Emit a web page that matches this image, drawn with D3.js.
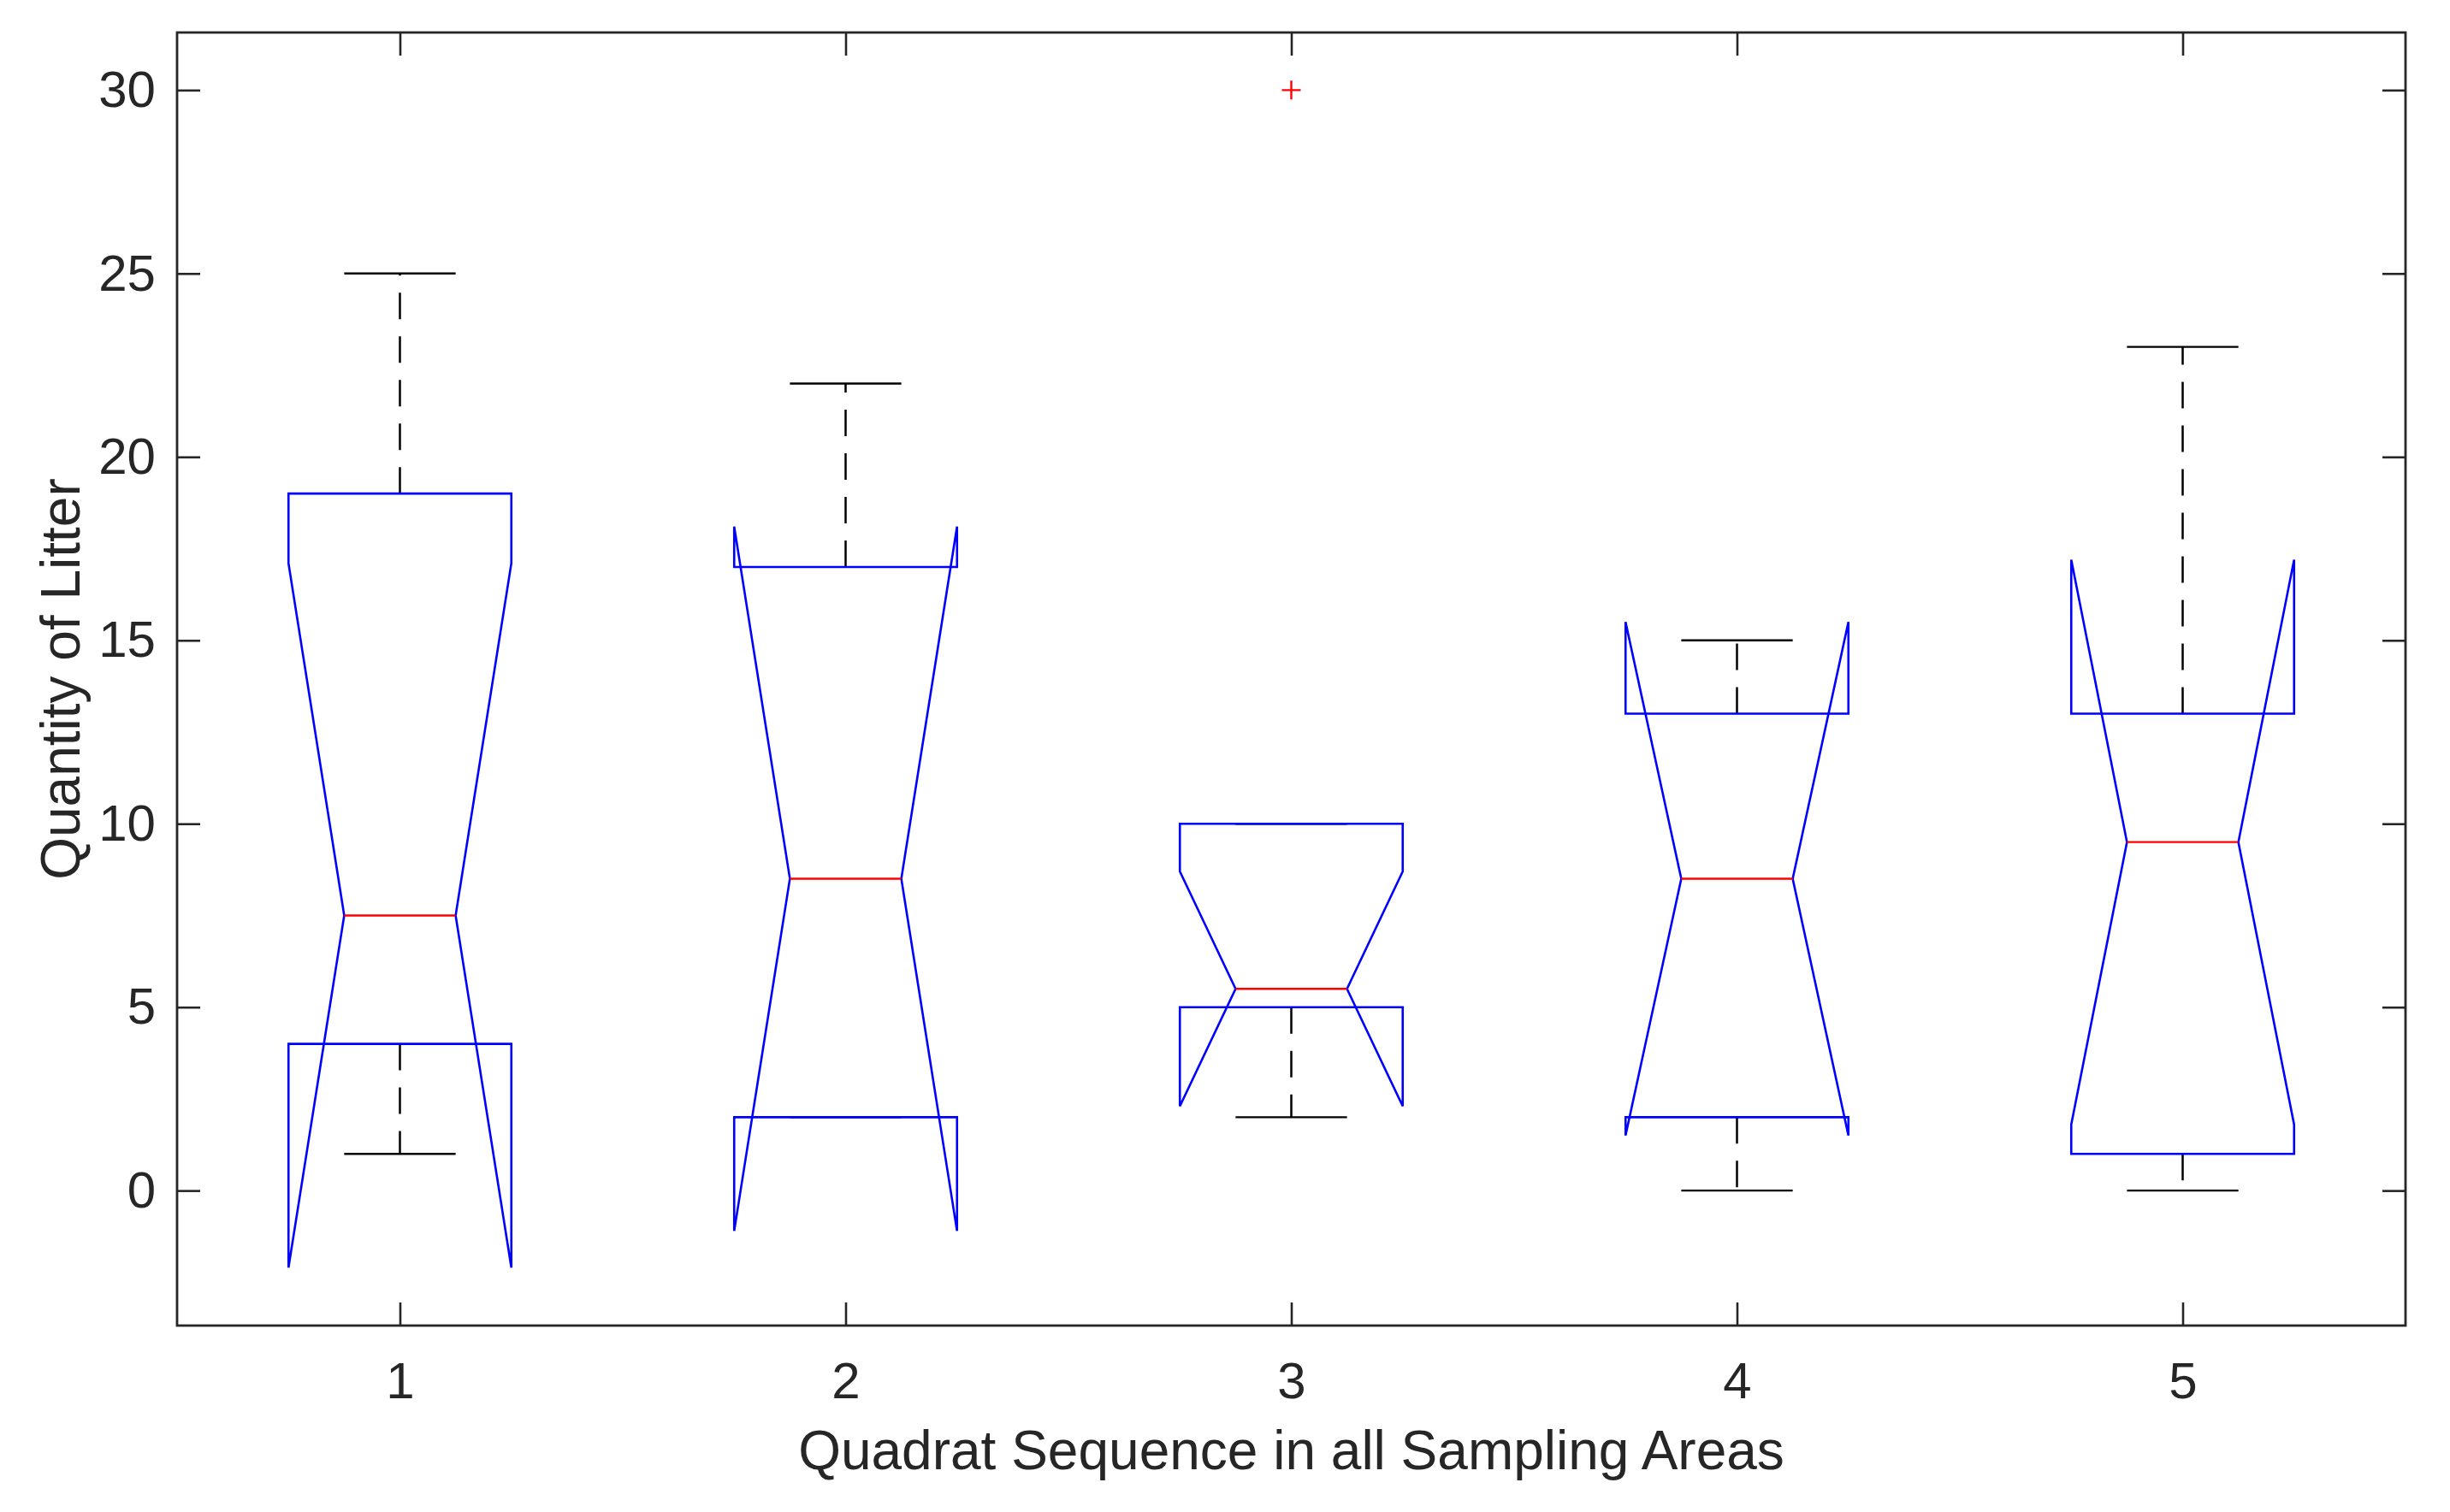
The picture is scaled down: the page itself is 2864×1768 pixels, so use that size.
<!DOCTYPE html>
<html>
<head>
<meta charset="utf-8">
<script src="https://cdn.jsdelivr.net/npm/d3@7"></script>
<style>
  html, body { margin: 0; padding: 0; background: #ffffff; }
  svg { display: block; }
  text { font-family: "Liberation Sans", Arial, Helvetica, sans-serif; fill: #262626; }
</style>
</head>
<body>
<svg id="chart" width="2864" height="1768"></svg>
<script>
// ---- Data ----
const categories = [1, 2, 3, 4, 5];
const q1Values     = [4, 2, 5, 2, 1];
const medianValues = [7.5, 8.5, 5.5, 8.5, 9.5];
const q3Values     = [19, 17, 10, 13, 13];
const whiskerLow   = [1, 2, 2, 0, 0];
const whiskerHigh  = [25, 22, 10, 15, 23];
const notchLow     = [-2.1, -1.1, 2.3, 1.5, 1.8];
const notchHigh    = [17.1, 18.1, 8.7, 15.5, 17.2];
const outlierCategory = [3];
const outlierValue    = [30];
const yTickValues = [0, 5, 10, 15, 20, 25, 30];
const xTickValues = [1, 2, 3, 4, 5];
const xLabel = "Quadrat Sequence in all Sampling Areas";
const yLabel = "Quantity of Litter";

// ---- Layout ----
const plotLeft = 207, plotRight = 2812, plotTop = 38, plotBottom = 1550;
const axisColor = "#262626";
const boxHalf = 0.25;     // half box width, in category units
const capHalf = 0.125;    // half whisker-cap width

const svg = d3.select("#chart");

const x = d3.scaleLinear().domain([0.5, 5.5]).range([plotLeft, plotRight]);
const y = d3.scaleLinear().domain([-3.68, 31.57]).range([plotBottom, plotTop]);

// ---- Whiskers (drawn first, under boxes) ----
const gW = svg.append("g");
categories.forEach((c, i) => {
  gW.append("line")
    .attr("x1", x(c)).attr("x2", x(c))
    .attr("y1", y(q3Values[i])).attr("y2", y(whiskerHigh[i]))
    .attr("stroke", "#000").attr("stroke-width", 2.5)
    .attr("stroke-dasharray", "31,20");
  gW.append("line")
    .attr("x1", x(c)).attr("x2", x(c))
    .attr("y1", y(q1Values[i])).attr("y2", y(whiskerLow[i]))
    .attr("stroke", "#000").attr("stroke-width", 2.5)
    .attr("stroke-dasharray", "31,20");
  [whiskerHigh[i], whiskerLow[i]].forEach(v => {
    gW.append("line")
      .attr("x1", x(c - capHalf)).attr("x2", x(c + capHalf))
      .attr("y1", y(v)).attr("y2", y(v))
      .attr("stroke", "#000").attr("stroke-width", 2.4);
  });
});

// ---- Notched boxes ----
const gB = svg.append("g");
const boxLine = d3.line().x(d => x(d[0])).y(d => y(d[1]));
categories.forEach((c, i) => {
  const pts = [
    [c - boxHalf, q1Values[i]],
    [c - boxHalf, notchLow[i]],
    [c - boxHalf / 2, medianValues[i]],
    [c - boxHalf, notchHigh[i]],
    [c - boxHalf, q3Values[i]],
    [c + boxHalf, q3Values[i]],
    [c + boxHalf, notchHigh[i]],
    [c + boxHalf / 2, medianValues[i]],
    [c + boxHalf, notchLow[i]],
    [c + boxHalf, q1Values[i]]
  ];
  gB.append("path")
    .attr("d", boxLine(pts) + "Z")
    .attr("fill", "none")
    .attr("stroke", "#0000ff")
    .attr("stroke-width", 2.6)
    .attr("stroke-linejoin", "miter");
  gB.append("line")
    .attr("x1", x(c - boxHalf / 2)).attr("x2", x(c + boxHalf / 2))
    .attr("y1", y(medianValues[i])).attr("y2", y(medianValues[i]))
    .attr("stroke", "#ff0000").attr("stroke-width", 2.4);
});

// ---- Outliers ----
const gO = svg.append("g");
outlierCategory.forEach((c, i) => {
  const cx = x(c), cy = y(outlierValue[i]), s = 11;
  gO.append("path")
    .attr("d", `M${cx - s},${cy}H${cx + s}M${cx},${cy - s}V${cy + s}`)
    .attr("stroke", "#ff0000").attr("stroke-width", 2.4).attr("fill", "none");
});

// ---- Axes ----
const tickLen = 27;
const fontSize = 60;
const intFmt = d3.format("d");

const gLeft = svg.append("g").attr("transform", `translate(${plotLeft},0)`)
  .call(d3.axisLeft(y).tickValues(yTickValues).tickFormat(intFmt).tickSize(-tickLen).tickSizeOuter(0).tickPadding(25));
const gBottom = svg.append("g").attr("transform", `translate(0,${plotBottom})`)
  .call(d3.axisBottom(x).tickValues(xTickValues).tickFormat(intFmt).tickSize(-tickLen).tickSizeOuter(0).tickPadding(42));
const gRight = svg.append("g").attr("transform", `translate(${plotRight},0)`)
  .call(d3.axisRight(y).tickValues(yTickValues).tickSize(-tickLen).tickSizeOuter(0).tickFormat(""));
const gTop = svg.append("g").attr("transform", `translate(0,${plotTop})`)
  .call(d3.axisTop(x).tickValues(xTickValues).tickSize(-tickLen).tickSizeOuter(0).tickFormat(""));

[gLeft, gBottom, gRight, gTop].forEach(g => {
  g.select(".domain").remove();
  g.selectAll(".tick line").attr("stroke", axisColor).attr("stroke-width", 2.6);
  g.selectAll(".tick text")
    .attr("fill", axisColor)
    .style("font-family", '"Liberation Sans", Arial, Helvetica, sans-serif')
    .style("font-size", fontSize + "px");
});

svg.append("rect")
  .attr("x", plotLeft).attr("y", plotTop)
  .attr("width", plotRight - plotLeft).attr("height", plotBottom - plotTop)
  .attr("fill", "none").attr("stroke", axisColor).attr("stroke-width", 2.8);

// ---- Axis labels ----
svg.append("text")
  .attr("x", (plotLeft + plotRight) / 2).attr("y", 1718)
  .attr("text-anchor", "middle")
  .style("font-size", "64px")
  .text(xLabel);

svg.append("text")
  .attr("transform", `translate(93,${(plotTop + plotBottom) / 2}) rotate(-90)`)
  .attr("text-anchor", "middle")
  .style("font-size", "64px")
  .text(yLabel);
</script>
</body>
</html>
